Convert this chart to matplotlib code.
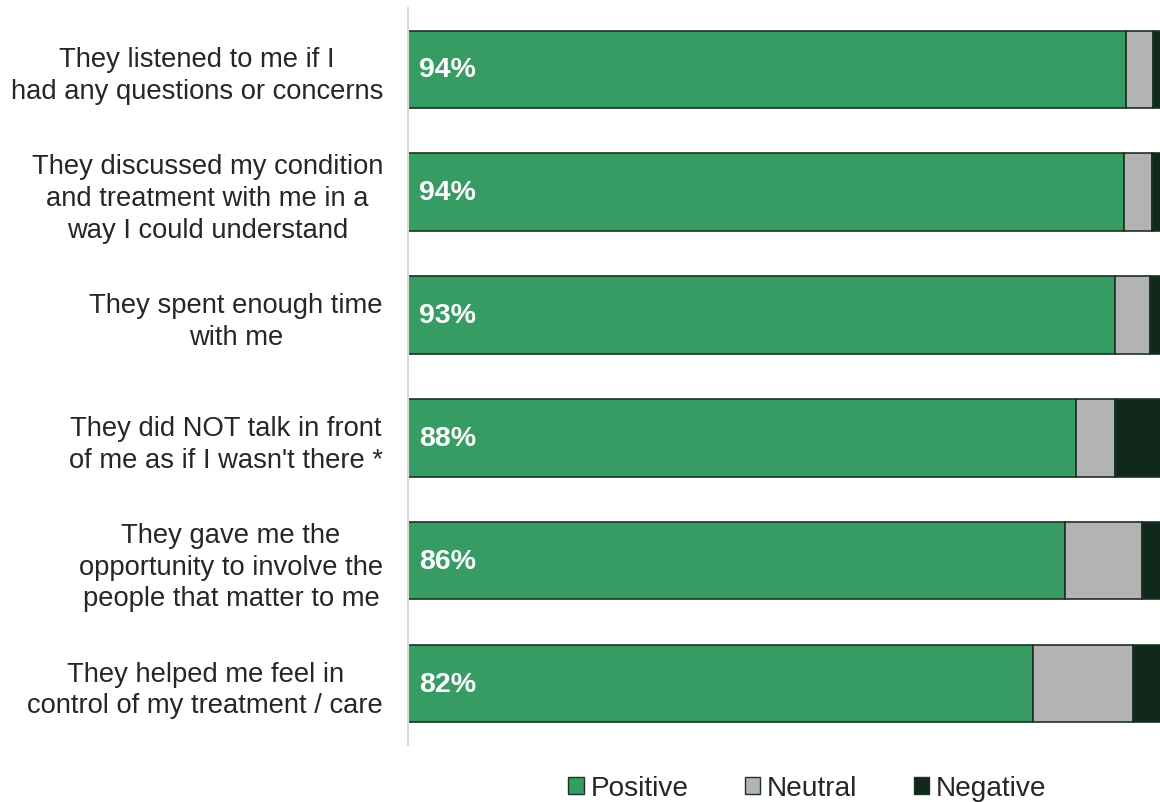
import numpy as np
import matplotlib.pyplot as plt
from matplotlib.patches import Patch

plt.rcParams['font.family'] = ['Liberation Sans', 'DejaVu Sans']

statements = [
    "They listened to me if I\nhad any questions or concerns",
    "They discussed my condition\nand treatment with me in a\nway I could understand",
    "They spent enough time\nwith me",
    "They did NOT talk in front\nof me as if I wasn't there *",
    "They gave me the\nopportunity to involve the\npeople that matter to me",
    "They helped me feel in\ncontrol of my treatment / care",
]
positive = [94.2, 94.0, 92.8, 87.7, 86.2, 82.0]
neutral = [3.5, 3.6, 4.6, 5.1, 10.1, 13.1]
negative = [2.3, 2.4, 2.6, 7.2, 3.7, 4.9]
pct_labels = ['94%', '94%', '93%', '88%', '86%', '82%']

c_pos = '#369c63'
c_neu = '#b3b3b3'
c_neg = '#10291b'
edge = '#1a3324'

fig = plt.figure(figsize=(11.6, 8.03), dpi=100)
# axis runs slightly past the right edge, so the 100% end is cut off
ax = fig.add_axes([0.3517, 0.071, 0.657, 0.918])

y = np.arange(len(statements))
h = 0.63
pos = np.array(positive)
neu = np.array(neutral)
neg = np.array(negative)

ax.barh(y, pos, height=h, color=c_pos, edgecolor=edge, linewidth=1.2)
ax.barh(y, neu, left=pos, height=h, color=c_neu, edgecolor=edge, linewidth=1.2)
ax.barh(y, neg, left=pos + neu, height=h, color=c_neg, edgecolor=edge, linewidth=1.2)

for yi, lab in zip(y, pct_labels):
    ax.text(1.5, yi, lab, color='white', fontsize=20.5, fontweight='bold',
            va='center', ha='left')

ax.set_xlim(0, 100)
ax.set_ylim(len(statements) - 0.5, -0.5)
ax.set_yticks(y)
ax.set_yticklabels(statements, fontsize=19.7, color='#262626')
for t in ax.get_yticklabels():
    t.set_multialignment('center')
    t.set_linespacing(1.29)
ax.tick_params(axis='y', length=0, pad=18)
ax.set_xticks([])

for s in ['top', 'right', 'bottom']:
    ax.spines[s].set_visible(False)
ax.spines['left'].set_color('#d9d9d9')
ax.spines['left'].set_linewidth(1.5)

handles = [Patch(facecolor=c_pos, edgecolor=edge, label='Positive'),
           Patch(facecolor=c_neu, edgecolor=edge, label='Neutral'),
           Patch(facecolor=c_neg, edgecolor=edge, label='Negative')]
fig.legend(handles=handles, loc='center', bbox_to_anchor=(0.696, 0.017),
           ncol=3, frameon=False, fontsize=20.2, handlelength=0.55,
           handleheight=0.55, handletextpad=0.25, columnspacing=2.0,
           labelcolor='#262626')

fig.savefig('out.png', dpi=100)
